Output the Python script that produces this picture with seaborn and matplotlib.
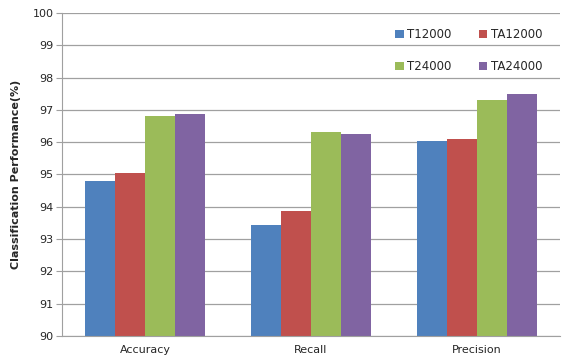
import matplotlib
matplotlib.use("Agg")
import matplotlib.pyplot as plt
import seaborn as sns
import pandas as pd
from matplotlib.patches import Patch

categories = ["Accuracy", "Recall", "Precision"]
series = ["T12000", "TA12000", "T24000", "TA24000"]
t12000 = [94.80, 93.44, 96.04]
ta12000 = [95.06, 93.88, 96.11]
t24000 = [96.82, 96.31, 97.31]
ta24000 = [96.88, 96.25, 97.50]
colors = ["#4F81BD", "#C0504D", "#9BBB59", "#8064A2"]

rows = []
for name, vals in zip(series, [t12000, ta12000, t24000, ta24000]):
    for c, v in zip(categories, vals):
        rows.append({"Metric": c, "Model": name, "Value": v})
df = pd.DataFrame(rows)

sns.set_style("white")
plt.rcParams['font.family'] = ['DejaVu Sans']
fig = plt.figure(figsize=(5.63, 3.63), dpi=100)
ax = fig.add_axes([0.110, 0.0744, 0.885, 0.8898])

sns.barplot(data=df, x="Metric", y="Value", hue="Model", order=categories,
            hue_order=series, palette=colors, width=0.72, ax=ax,
            saturation=1, legend=False, edgecolor="none")

ax.set_ylim(90, 100)
ax.set_xlim(-0.5, 2.5)
ax.set_yticks(range(90, 101))
ax.yaxis.grid(True, color="#A0A0A0", linewidth=0.9)
ax.set_axisbelow(True)
for s in ["top", "right"]:
    ax.spines[s].set_visible(False)
for s in ["left", "bottom"]:
    ax.spines[s].set_color("#A0A0A0")
ax.tick_params(axis="y", left=True, length=4, color="#A0A0A0", labelsize=8, pad=2)
ax.tick_params(axis="x", bottom=False, labelsize=8, pad=3)
ax.set_xlabel("")
ax.set_ylabel("Classification Performance(%)", fontsize=8, fontweight="bold", labelpad=8)

# legend filled column-wise: reorder so rows read T12000/TA12000, T24000/TA24000
order = [0, 2, 1, 3]
handles = [Patch(facecolor=colors[i], edgecolor="none") for i in order]
labels = [series[i] for i in order]
ax.legend(handles, labels, ncol=2, loc="upper right", bbox_to_anchor=(0.985, 0.985),
          frameon=False, fontsize=8.5, labelspacing=1.55, columnspacing=2.3,
          handlelength=0.7, handleheight=0.7, handletextpad=0.3)

fig.savefig("out.png", dpi=100)
